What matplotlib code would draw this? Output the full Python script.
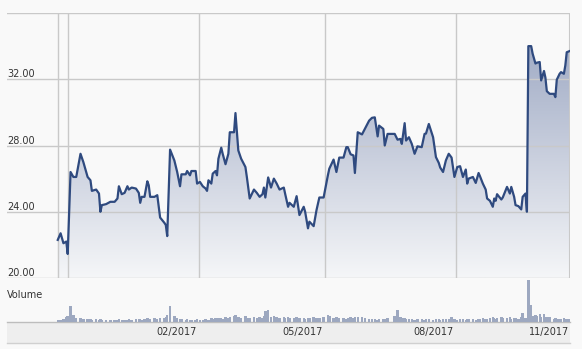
import numpy as np
import pandas as pd
import matplotlib
matplotlib.use("Agg")
import matplotlib.pyplot as plt
import matplotlib.dates as mdates
from matplotlib.colors import LinearSegmentedColormap
from matplotlib.transforms import ScaledTranslation

# ---- data ----
# days counted from 2016-11-01
BASE = pd.Timestamp("2016-11-01")
days = [
    -7, -5, -3, -1, 0, 2, 4, 6, 9, 11, 14, 16, 17, 20, 22, 23, 24, 27, 30, 33,
    35, 36, 38, 40, 42, 43, 45, 48, 50, 51, 52, 54, 56, 57, 58, 61, 63, 65, 68, 69,
    70, 72, 75, 77, 79, 80, 83, 84, 86, 87, 90, 91, 93, 95, 97, 98, 99, 101, 102, 104,
    105, 106, 108, 109, 111, 113, 114, 117, 118, 120, 122, 125, 126, 128, 131, 133, 135, 137, 138, 139,
    141, 143, 145, 147, 149, 152, 153, 155, 156, 159, 161, 163, 166, 167, 169, 170, 173, 175, 177, 180,
    183, 184, 187, 189, 191, 194, 196, 197, 199, 201, 202, 204, 207, 209, 212, 214, 216, 218, 219, 222,
    223, 225, 230, 232, 234, 235, 237, 238, 240, 242, 244, 246, 249, 251, 252, 254, 257, 259, 261, 262,
    264, 266, 268, 270, 272, 274, 276, 278, 280, 281, 282, 285, 287, 289, 290, 292, 294, 295, 297, 299,
    300, 301, 302, 305, 306, 309, 311, 312, 314, 315, 317, 319, 320, 322, 323, 324, 326, 327, 329, 330,
    332, 333, 335, 336, 337, 339, 342, 343, 344, 346, 347, 349, 350, 351, 353,
]
price = [
    22.3, 22.7, 22.1, 22.2, 21.45, 26.4, 26.1, 26.1, 27.5, 27.0, 26.1, 25.9, 25.26, 25.34, 25.1, 24.0, 24.4, 24.46, 24.6, 24.6,
    24.8, 25.54, 25.06, 25.14, 25.54, 25.34, 25.46, 25.4, 25.14, 24.54, 24.9, 24.9, 25.84, 25.6, 24.9, 24.9, 25.0, 23.65, 23.33, 23.2,
    22.53, 27.75, 27.1, 26.4, 25.54, 26.26, 26.26, 26.46, 26.2, 26.46, 26.46, 25.7, 25.8, 25.54, 25.4, 25.26, 25.9, 25.7, 26.3, 26.46,
    26.2, 27.2, 27.87, 27.5, 26.87, 27.5, 28.8, 28.8, 29.96, 27.7, 27.2, 26.7, 26.1, 24.8, 25.34, 25.14, 24.9, 25.06, 25.46, 24.86,
    26.07, 25.46, 26.0, 25.7, 25.34, 25.46, 25.06, 24.3, 24.54, 24.3, 24.94, 23.8, 24.3, 24.0, 23.0, 23.4, 23.13, 24.1, 24.86, 24.86,
    26.2, 26.6, 27.15, 26.4, 27.27, 27.27, 27.9, 27.9, 27.47, 27.4, 26.34, 28.8, 28.67, 29.0, 29.5, 29.67, 29.7, 28.55, 29.2, 29.0,
    28.0, 28.7, 28.7, 28.35, 28.4, 28.1, 29.35, 28.3, 28.5, 28.1, 27.5, 27.95, 27.9, 28.7, 28.72, 29.3, 28.5, 27.3, 26.95, 26.67,
    26.4, 27.1, 27.5, 27.27, 26.1, 26.7, 26.75, 26.1, 26.55, 25.7, 26.0, 26.1, 25.74, 26.34, 26.14, 25.7, 25.34, 24.8, 24.66, 24.3,
    24.8, 24.66, 25.06, 24.74, 24.86, 25.5, 25.1, 25.5, 24.9, 24.4, 24.34, 24.14, 24.9, 25.1, 24.0, 34.0, 34.0, 33.55, 32.95, 33.0,
    33.04, 31.93, 32.5, 32.1, 31.28, 31.12, 31.12, 30.92, 31.97, 32.33, 32.43, 32.33, 32.83, 33.63, 33.7,
]
# volume, thousand shares
volume = [
    50, 50, 75, 125, 150, 400, 175, 100, 100, 75, 75, 75, 50, 75, 50, 75, 50, 50, 50, 50,
    50, 75, 50, 50, 50, 75, 50, 75, 75, 75, 50, 75, 100, 75, 75, 100, 75, 100, 100, 125,
    175, 400, 150, 100, 75, 75, 50, 75, 50, 50, 50, 75, 50, 50, 75, 50, 50, 100, 75, 100,
    75, 100, 100, 75, 125, 100, 125, 150, 175, 125, 100, 150, 100, 100, 125, 100, 125, 100, 150, 275,
    300, 125, 150, 125, 100, 125, 100, 125, 100, 100, 125, 100, 100, 75, 100, 100, 125, 100, 100, 125,
    175, 150, 100, 125, 100, 100, 75, 100, 125, 100, 125, 125, 125, 100, 75, 75, 75, 50, 75, 75,
    75, 100, 150, 300, 125, 100, 100, 75, 75, 75, 50, 75, 75, 50, 75, 75, 50, 75, 75, 50,
    75, 75, 75, 125, 75, 50, 75, 75, 50, 75, 75, 75, 50, 75, 75, 100, 75, 75, 100, 125,
    100, 75, 100, 125, 100, 100, 125, 75, 100, 100, 75, 125, 225, 100, 100, 1050, 425, 150, 175, 150,
    200, 125, 200, 125, 125, 125, 75, 100, 75, 75, 75, 100, 75, 75, 75,
]
y_ticks = [20, 24, 28, 32]
grid_dates = ["2016-11-01", "2017-02-01", "2017-05-01", "2017-08-01"]
x_labels = ["02/2017", "05/2017", "08/2017"]
last_label = "11/2017"

LINE = "#2f4a7f"
GRID = "#c9c9c9"
BG = "#f9f9f9"
TXT = "#333333"


def main():
    W, H = 582, 349
    fig = plt.figure(figsize=(W / 100, H / 100), dpi=100, facecolor=BG)

    def fx(px):
        return px / W

    def fy(py):
        return 1 - py / H

    # date band behind everything
    band = plt.Rectangle((fx(7), fy(343)), fx(563), 21 / H, transform=fig.transFigure,
                         facecolor="#eeeeee", edgecolor="none", zorder=-5)
    fig.add_artist(band)
    fig.add_artist(plt.Line2D([fx(7), fx(570)], [fy(322), fy(322)], color="#bdbdbd", lw=1, zorder=-4))
    fig.add_artist(plt.Line2D([fx(7), fx(570)], [fy(343), fy(343)], color="#d0d0d0", lw=1, zorder=-4))

    ax = fig.add_axes([fx(7), fy(278), fx(563), (278 - 13) / H], facecolor=BG)
    axv = fig.add_axes([fx(7), fy(322), fx(563), 42 / H], facecolor="none", sharex=ax)

    base = mdates.date2num(BASE)
    x = mdates.date2num((BASE + pd.to_timedelta(days, unit="D")).values)
    xmin, xmax = base - 42.7, base + 353.3

    # gradient fill under the price line
    cmap = LinearSegmentedColormap.from_list("fill", ["#f5f6f8", "#96a2bf"])
    grad = np.linspace(0, 1, 256).reshape(-1, 1)
    im = ax.imshow(grad, extent=[xmin, xmax, 20, 36], origin="lower",
                   aspect="auto", cmap=cmap, zorder=1)
    poly = ax.fill_between(x, price, 20, facecolor="none", edgecolor="none")
    im.set_clip_path(poly.get_paths()[0], ax.transData)
    ax.plot(x, price, color=LINE, lw=1.6, zorder=3, solid_joinstyle="round")

    # grid
    for v in [20, 24, 28, 32, 36]:
        ax.axhline(v, color=GRID, lw=1, zorder=2)
    for d in grid_dates:
        ax.axvline(mdates.date2num(pd.Timestamp(d)), color=GRID, lw=1, zorder=2)
    ax.axvline(x[0], color=GRID, lw=1, zorder=2)
    ax.axvline(xmax, color=GRID, lw=1.5, zorder=2)

    ax.set_xlim(xmin, xmax)
    ax.set_ylim(20, 36)
    for s in ax.spines.values():
        s.set_visible(False)
    ax.set_xticks([]); ax.set_yticks([])
    up = ScaledTranslation(0, 2 / 100, fig.dpi_scale_trans)
    for v in y_ticks:
        ax.text(0, v, f"{v:.2f}", transform=ax.get_yaxis_transform() + up,
                ha="left", va="baseline", fontsize=7, color=TXT)

    # volume
    axv.bar(x, volume, width=1.7, color="#9da8c0", linewidth=0, align="center")
    axv.set_ylim(0, 1060)
    axv.set_xlim(xmin, xmax)
    axv.axis("off")
    fig.text(fx(7), fy(295), "Volume", fontsize=7, color=TXT, ha="left", va="center")

    # month labels, right-aligned on their grid lines
    left = ScaledTranslation(-2 / 100, 0, fig.dpi_scale_trans)
    trans = axv.get_xaxis_transform() + left
    for d, lab in zip(grid_dates[1:], x_labels):
        axv.text(mdates.date2num(pd.Timestamp(d)), -10 / 42, lab, transform=trans,
                 ha="right", va="center", fontsize=7, color=TXT, clip_on=False)
    axv.text(1.0, -10 / 42, last_label,
             transform=axv.transAxes + ScaledTranslation(-1 / 100, 0, fig.dpi_scale_trans),
             ha="right", va="center", fontsize=7, color=TXT, clip_on=False)

    fig.savefig("out.png", dpi=100, facecolor=BG)
    plt.close(fig)


if __name__ == "__main__":
    main()
